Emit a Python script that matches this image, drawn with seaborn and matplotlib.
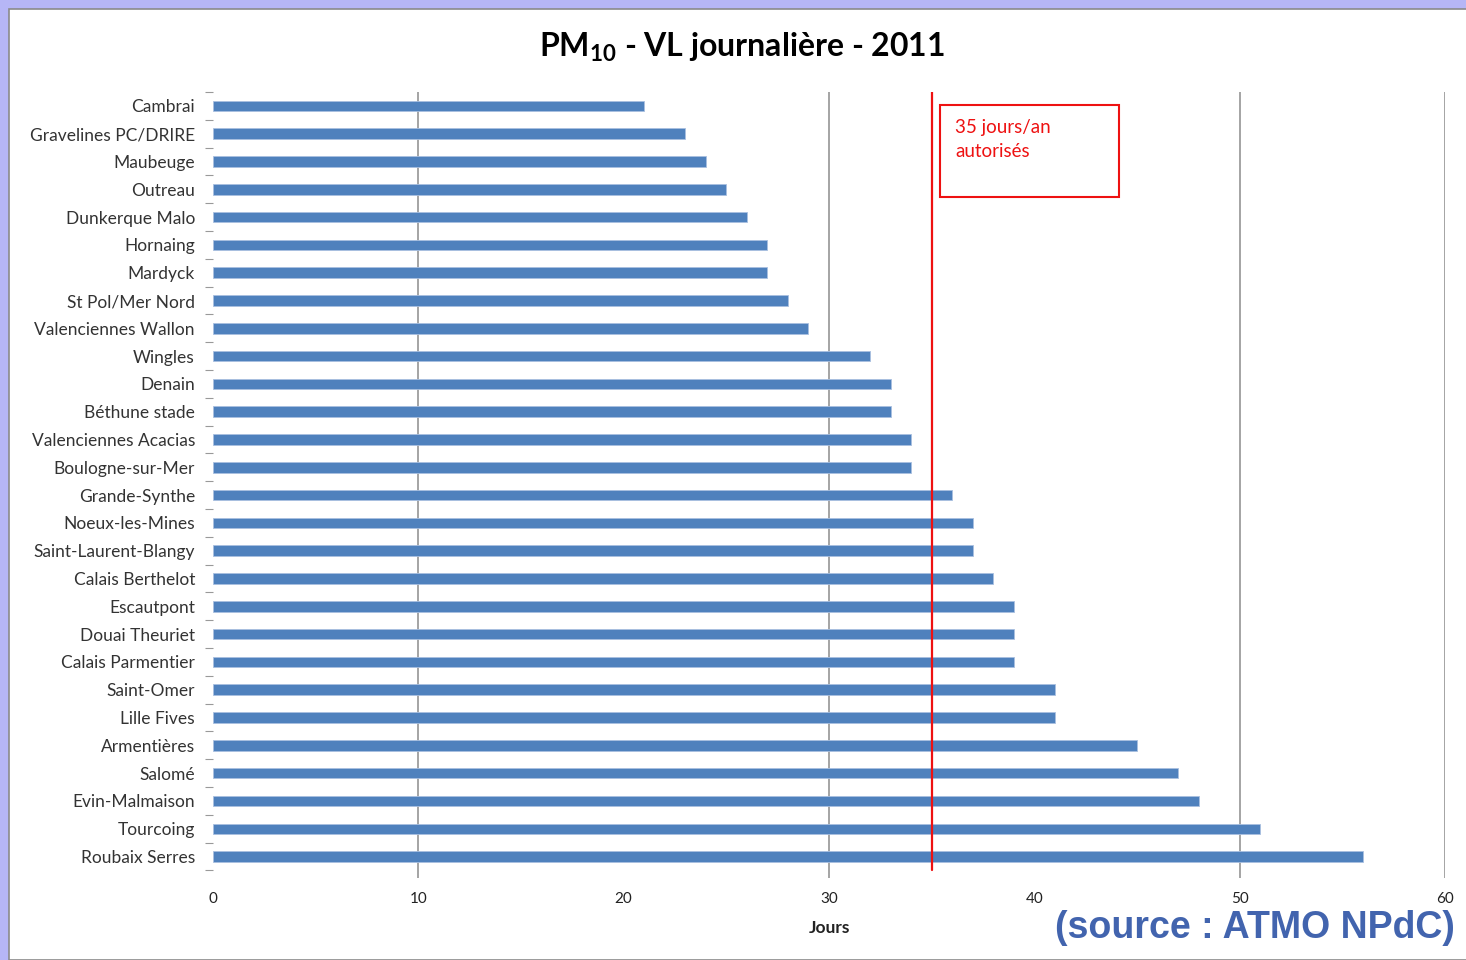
import matplotlib
matplotlib.use('Agg')
import matplotlib.pyplot as plt
import seaborn as sns
import pandas as pd
from matplotlib.patches import Rectangle

# PM10 - days above daily limit value, 2011
stations = [
    'Cambrai', 'Gravelines PC/DRIRE', 'Maubeuge', 'Outreau', 'Dunkerque Malo',
    'Hornaing', 'Mardyck', 'St Pol/Mer Nord', 'Valenciennes Wallon', 'Wingles',
    'Denain', 'Béthune stade', 'Valenciennes Acacias', 'Boulogne-sur-Mer',
    'Grande-Synthe', 'Noeux-les-Mines', 'Saint-Laurent-Blangy', 'Calais Berthelot',
    'Escautpont', 'Douai Theuriet', 'Calais Parmentier', 'Saint-Omer', 'Lille Fives',
    'Armentières', 'Salomé', 'Evin-Malmaison', 'Tourcoing', 'Roubaix Serres',
]
jours = [21, 23, 24, 25, 26, 27, 27, 28, 29, 32, 33, 33, 34, 34, 36, 37, 37, 38,
         39, 39, 39, 41, 41, 45, 47, 48, 51, 56]
x_ticks = [0, 10, 20, 30, 40, 50, 60]
grid_at = [10, 30, 50, 60]
limite = 35

df = pd.DataFrame({'station': stations, 'jours': jours})

sns.set_theme(style='white')
plt.rcParams['font.family'] = ['Lato', 'DejaVu Sans']
plt.rcParams['mathtext.fontset'] = 'custom'
plt.rcParams['mathtext.bf'] = 'Lato:bold'
plt.rcParams['mathtext.rm'] = 'Lato'

fig = plt.figure(figsize=(14.66, 9.6), dpi=100)
fig.patch.set_facecolor('#b6b6f6')
# white slide panel with grey border
fig.patches.append(Rectangle((9 / 1466, 0), 1, 1 - 9 / 960, transform=fig.transFigure,
                             facecolor='white', edgecolor='#8a8a8a', linewidth=1.2, zorder=-5))

ax = fig.add_axes([213 / 1466, 1 - 878 / 960, (1445 - 213) / 1466, (878 - 92) / 960])
ax.set_zorder(2)
ax.set_facecolor('none')

for g in grid_at:
    ax.axvline(g, color='#8c8c8c', linewidth=1.1, zorder=0)

sns.barplot(data=df, x='jours', y='station', orient='h', color='#4f81bd',
            saturation=1, width=0.38, edgecolor='#a9c0e0', linewidth=0.6, ax=ax, zorder=2)

ax.set_xlim(0, 60)
ax.set_ylim(27.77, -0.5)
ax.set_xticks(x_ticks)
ax.set_xticklabels([str(t) for t in x_ticks], fontsize=11, color='#222222')
ax.tick_params(axis='x', length=0, pad=10)
ax.tick_params(axis='y', length=0, pad=13, labelsize=12.5, labelcolor='#333333')
ax.set_yticks(range(len(stations)), minor=False)
ax.set_yticks([i + 0.5 for i in range(-1, len(stations))], minor=True)
ax.tick_params(axis='y', which='minor', length=6, color='#999999', width=0.8, left=True)
for s in ax.spines.values():
    s.set_visible(False)

ax.set_ylabel('')
ax.set_xlabel('Jours', fontsize=12.5, fontweight='bold', labelpad=10, color='#222222')

# limit value and annotation box
ax.axvline(limite, color='#ee1111', linewidth=1.6, ymax=1, ymin=0.01, zorder=3)
ax.add_patch(Rectangle((35.4, -0.03), 8.7, 3.3, fill=False, edgecolor='#ee1111',
                       linewidth=1.5, zorder=3))
ax.text(36.15, 1.21, '35 jours/an\nautorisés', color='#ee1111', fontsize=13.5,
        linespacing=1.45, va='center', ha='left', zorder=4)

fig.text(742 / 1466, 1 - 47 / 960, r'PM$_{\mathbf{10}}$ - VL journalière - 2011',
         ha='center', va='center', fontsize=23, fontweight='bold', color='black')

fig.text(1455 / 1466, 1 - 928 / 960, '(source : ATMO NPdC)', ha='right', va='center',
         fontsize=27, fontweight='bold', color='#4264ae', family=['Liberation Sans', 'DejaVu Sans'])

fig.savefig('out.png', dpi=100, facecolor=fig.get_facecolor())
